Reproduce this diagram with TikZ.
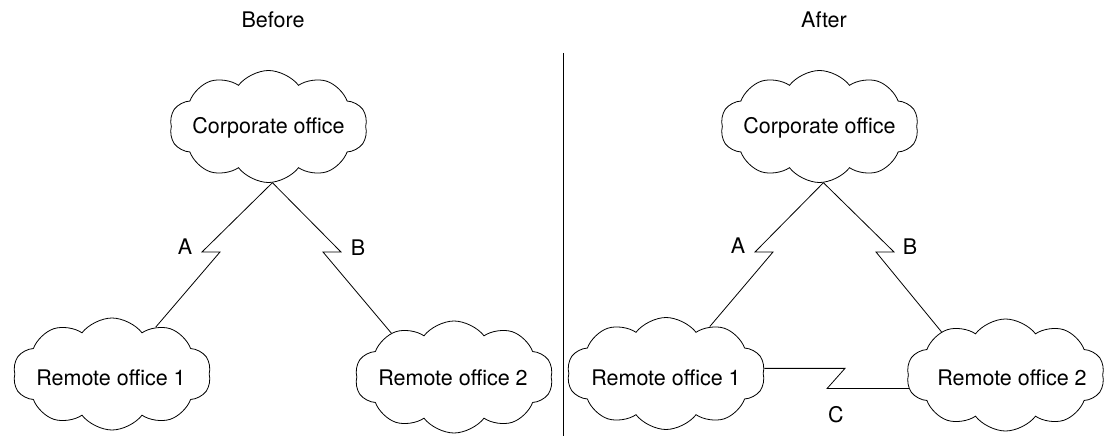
\documentclass[tikz,border=0pt]{standalone}
\usepackage{fontspec}
\setmainfont{TeX Gyre Heros}
\usetikzlibrary{shapes.symbols}
\begin{document}
\begin{tikzpicture}[x=1pt,y=-1pt,
  office/.style={cloud, draw, cloud puffs=10, cloud puff arc=105, cloud ignores aspect,
    minimum width=198pt, minimum height=112pt, inner sep=0pt, line width=0.8pt},
  lbl/.style={font=\fontsize{21.5}{25}\selectfont, inner sep=0pt},
  link/.style={line width=0.8pt, line join=miter}
]
\useasboundingbox (0,0) rectangle (1111,436);

% titles
\node[lbl] (tBefore) at (273,20) {Before};
\node[lbl] (tAfter) at (824,20) {After};

% divider
\coordinate (dTop) at (563,53);
\coordinate (dBot) at (563,436);
\draw[line width=0.9pt] (dTop) -- (dBot);

% ---------- Before ----------
\node[office] (corpL) at (268.5,126.5) {};
\node[lbl] (corpLt) at (268.5,128) {Corporate office};
\node[office] (r1L) at (112,374) {};
\node[lbl] (r1Lt) at (111,378) {Remote office 1};
\node[office] (r2L) at (454,377) {};
\node[lbl] (r2Lt) at (453,378) {Remote office 2};

\coordinate (aL1) at (202,252);
\coordinate (aL2) at (220,252);
\coordinate (bL1) at (341,252);
\coordinate (bL2) at (323,252);
\draw[link] (corpL.-86) -- (aL1) -- (aL2) -- (r1L.47);
\draw[link] (corpL.-86) -- (bL1) -- (bL2) -- (r2L.145);
\node[lbl] (labAL) at (185,247) {A};
\node[lbl] (labBL) at (358,248) {B};

% ---------- After ----------
\node[office] (corpR) at (819.5,126.5) {};
\node[lbl] (corpRt) at (819.5,128) {Corporate office};
\node[office] (r1R) at (666,373.5) {};
\node[lbl] (r1Rt) at (666,378) {Remote office 1};
\node[office] (r2R) at (1005.5,375) {};
\node[lbl] (r2Rt) at (1012,378) {Remote office 2};

\coordinate (aR1) at (755,252);
\coordinate (aR2) at (773,252);
\coordinate (bR1) at (894,252);
\coordinate (bR2) at (876,252);
\draw[link] (corpR.-86) -- (aR1) -- (aR2) -- (r1R.47);
\draw[link] (corpR.-86) -- (bR1) -- (bR2) -- (r2R.146);
\node[lbl] (labAR) at (738,246) {A};
\node[lbl] (labBR) at (910,247) {B};

\coordinate (cR1) at (845,0 |- r1R.3);
\coordinate (cR2) at (827,0 |- r2R.188);
\draw[link] (r1R.3) -- (cR1) -- (cR2) -- (r2R.188);
\node[lbl] (labCR) at (836,415) {C};
\end{tikzpicture}
\end{document}
